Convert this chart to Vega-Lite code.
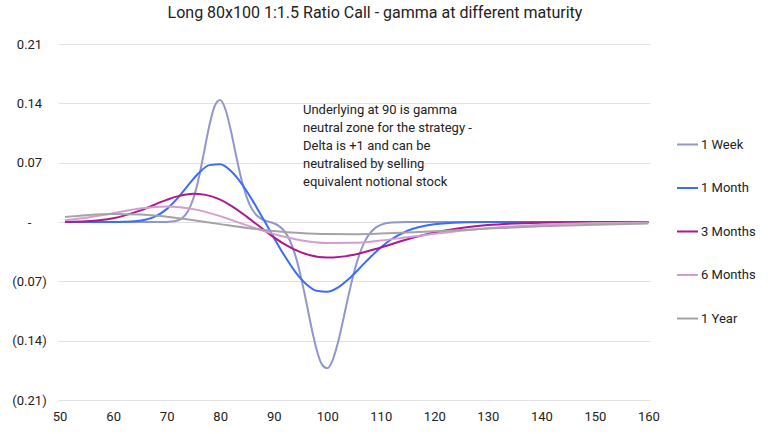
{
  "$schema": "https://vega.github.io/schema/vega-lite/v6.json",
  "width": 592,
  "height": 356,
  "autosize": {"type": "none"},
  "padding": {"left": 58, "top": 44, "right": 118, "bottom": 34},
  "background": "white",
  "config": {"view": {"stroke": null}, "font": "Roboto"},
  "title": {
    "text": "Long 80x100 1:1.5 Ratio Call - gamma at different maturity",
    "font": "Roboto",
    "fontSize": 16,
    "fontWeight": "normal",
    "color": "#222222",
    "anchor": "middle",
    "baseline": "alphabetic",
    "offset": 4,
    "dx": 21
  },
  "datasets": {
    "curves": [
      {"s": "1 Week", "x": 51, "y": 0},
      {"s": "1 Week", "x": 60, "y": 0},
      {"s": "1 Week", "x": 65, "y": 0},
      {"s": "1 Week", "x": 70, "y": 0.0001},
      {"s": "1 Week", "x": 71, "y": 0.0005},
      {"s": "1 Week", "x": 72, "y": 0.0017},
      {"s": "1 Week", "x": 73, "y": 0.005},
      {"s": "1 Week", "x": 74, "y": 0.0129},
      {"s": "1 Week", "x": 75, "y": 0.028},
      {"s": "1 Week", "x": 76, "y": 0.052},
      {"s": "1 Week", "x": 77, "y": 0.083},
      {"s": "1 Week", "x": 78, "y": 0.1145},
      {"s": "1 Week", "x": 79, "y": 0.1372},
      {"s": "1 Week", "x": 80, "y": 0.1438},
      {"s": "1 Week", "x": 81, "y": 0.1324},
      {"s": "1 Week", "x": 82, "y": 0.1076},
      {"s": "1 Week", "x": 83, "y": 0.0775},
      {"s": "1 Week", "x": 84, "y": 0.0497},
      {"s": "1 Week", "x": 85, "y": 0.0285},
      {"s": "1 Week", "x": 86, "y": 0.0147},
      {"s": "1 Week", "x": 87, "y": 0.0068},
      {"s": "1 Week", "x": 88, "y": 0.0027},
      {"s": "1 Week", "x": 89, "y": 0.0004},
      {"s": "1 Week", "x": 90, "y": -0.0016},
      {"s": "1 Week", "x": 91, "y": -0.0048},
      {"s": "1 Week", "x": 92, "y": -0.0108},
      {"s": "1 Week", "x": 93, "y": -0.0215},
      {"s": "1 Week", "x": 94, "y": -0.0385},
      {"s": "1 Week", "x": 95, "y": -0.0624},
      {"s": "1 Week", "x": 96, "y": -0.0917},
      {"s": "1 Week", "x": 97, "y": -0.1229},
      {"s": "1 Week", "x": 98, "y": -0.1501},
      {"s": "1 Week", "x": 99, "y": -0.168},
      {"s": "1 Week", "x": 100, "y": -0.1726},
      {"s": "1 Week", "x": 101, "y": -0.1632},
      {"s": "1 Week", "x": 102, "y": -0.1423},
      {"s": "1 Week", "x": 103, "y": -0.1148},
      {"s": "1 Week", "x": 104, "y": -0.0858},
      {"s": "1 Week", "x": 105, "y": -0.0596},
      {"s": "1 Week", "x": 106, "y": -0.0385},
      {"s": "1 Week", "x": 107, "y": -0.0232},
      {"s": "1 Week", "x": 108, "y": -0.0131},
      {"s": "1 Week", "x": 109, "y": -0.0069},
      {"s": "1 Week", "x": 110, "y": -0.0034},
      {"s": "1 Week", "x": 112, "y": -0.0007},
      {"s": "1 Week", "x": 115, "y": 0},
      {"s": "1 Week", "x": 120, "y": 0},
      {"s": "1 Week", "x": 130, "y": 0},
      {"s": "1 Week", "x": 140, "y": 0},
      {"s": "1 Week", "x": 150, "y": 0},
      {"s": "1 Week", "x": 160, "y": 0},
      {"s": "1 Month", "x": 51, "y": 0},
      {"s": "1 Month", "x": 55, "y": 0},
      {"s": "1 Month", "x": 60, "y": 0},
      {"s": "1 Month", "x": 62, "y": 0.0002},
      {"s": "1 Month", "x": 64, "y": 0.0008},
      {"s": "1 Month", "x": 66, "y": 0.0026},
      {"s": "1 Month", "x": 68, "y": 0.007},
      {"s": "1 Month", "x": 70, "y": 0.0152},
      {"s": "1 Month", "x": 72, "y": 0.0279},
      {"s": "1 Month", "x": 74, "y": 0.0433},
      {"s": "1 Month", "x": 76, "y": 0.0578},
      {"s": "1 Month", "x": 78, "y": 0.0671},
      {"s": "1 Month", "x": 80, "y": 0.0681},
      {"s": "1 Month", "x": 82, "y": 0.0602},
      {"s": "1 Month", "x": 84, "y": 0.0453},
      {"s": "1 Month", "x": 86, "y": 0.0258},
      {"s": "1 Month", "x": 88, "y": 0.0041},
      {"s": "1 Month", "x": 90, "y": -0.0182},
      {"s": "1 Month", "x": 92, "y": -0.0396},
      {"s": "1 Month", "x": 94, "y": -0.0585},
      {"s": "1 Month", "x": 96, "y": -0.0729},
      {"s": "1 Month", "x": 98, "y": -0.0812},
      {"s": "1 Month", "x": 100, "y": -0.0824},
      {"s": "1 Month", "x": 102, "y": -0.0773},
      {"s": "1 Month", "x": 104, "y": -0.0673},
      {"s": "1 Month", "x": 106, "y": -0.0548},
      {"s": "1 Month", "x": 108, "y": -0.0418},
      {"s": "1 Month", "x": 110, "y": -0.03},
      {"s": "1 Month", "x": 112, "y": -0.0204},
      {"s": "1 Month", "x": 115, "y": -0.0103},
      {"s": "1 Month", "x": 120, "y": -0.0026},
      {"s": "1 Month", "x": 125, "y": -0.0005},
      {"s": "1 Month", "x": 130, "y": -0.0001},
      {"s": "1 Month", "x": 140, "y": 0},
      {"s": "1 Month", "x": 150, "y": 0},
      {"s": "1 Month", "x": 160, "y": 0},
      {"s": "3 Months", "x": 51, "y": 0.0001},
      {"s": "3 Months", "x": 55, "y": 0.0008},
      {"s": "3 Months", "x": 60, "y": 0.0043},
      {"s": "3 Months", "x": 65, "y": 0.0134},
      {"s": "3 Months", "x": 70, "y": 0.0261},
      {"s": "3 Months", "x": 72, "y": 0.0302},
      {"s": "3 Months", "x": 75, "y": 0.0332},
      {"s": "3 Months", "x": 77, "y": 0.0323},
      {"s": "3 Months", "x": 80, "y": 0.0263},
      {"s": "3 Months", "x": 82, "y": 0.0194},
      {"s": "3 Months", "x": 85, "y": 0.0061},
      {"s": "3 Months", "x": 87, "y": -0.0036},
      {"s": "3 Months", "x": 90, "y": -0.0178},
      {"s": "3 Months", "x": 92, "y": -0.0261},
      {"s": "3 Months", "x": 95, "y": -0.0355},
      {"s": "3 Months", "x": 100, "y": -0.042},
      {"s": "3 Months", "x": 105, "y": -0.0387},
      {"s": "3 Months", "x": 110, "y": -0.03},
      {"s": "3 Months", "x": 115, "y": -0.0204},
      {"s": "3 Months", "x": 120, "y": -0.0124},
      {"s": "3 Months", "x": 125, "y": -0.007},
      {"s": "3 Months", "x": 130, "y": -0.0036},
      {"s": "3 Months", "x": 140, "y": -0.0008},
      {"s": "3 Months", "x": 150, "y": -0.0001},
      {"s": "3 Months", "x": 160, "y": 0},
      {"s": "6 Months", "x": 51, "y": 0.0021},
      {"s": "6 Months", "x": 55, "y": 0.0049},
      {"s": "6 Months", "x": 60, "y": 0.0104},
      {"s": "6 Months", "x": 65, "y": 0.0159},
      {"s": "6 Months", "x": 70, "y": 0.0183},
      {"s": "6 Months", "x": 75, "y": 0.0152},
      {"s": "6 Months", "x": 80, "y": 0.0069},
      {"s": "6 Months", "x": 85, "y": -0.004},
      {"s": "6 Months", "x": 90, "y": -0.0142},
      {"s": "6 Months", "x": 95, "y": -0.0214},
      {"s": "6 Months", "x": 100, "y": -0.0247},
      {"s": "6 Months", "x": 105, "y": -0.0245},
      {"s": "6 Months", "x": 110, "y": -0.0218},
      {"s": "6 Months", "x": 115, "y": -0.018},
      {"s": "6 Months", "x": 120, "y": -0.014},
      {"s": "6 Months", "x": 125, "y": -0.0103},
      {"s": "6 Months", "x": 130, "y": -0.0073},
      {"s": "6 Months", "x": 140, "y": -0.0033},
      {"s": "6 Months", "x": 150, "y": -0.0013},
      {"s": "6 Months", "x": 160, "y": -0.0005},
      {"s": "1 Year", "x": 51, "y": 0.006},
      {"s": "1 Year", "x": 55, "y": 0.008},
      {"s": "1 Year", "x": 60, "y": 0.0094},
      {"s": "1 Year", "x": 65, "y": 0.0089},
      {"s": "1 Year", "x": 70, "y": 0.0063},
      {"s": "1 Year", "x": 75, "y": 0.0022},
      {"s": "1 Year", "x": 80, "y": -0.0025},
      {"s": "1 Year", "x": 85, "y": -0.007},
      {"s": "1 Year", "x": 90, "y": -0.0106},
      {"s": "1 Year", "x": 95, "y": -0.013},
      {"s": "1 Year", "x": 100, "y": -0.0142},
      {"s": "1 Year", "x": 105, "y": -0.0144},
      {"s": "1 Year", "x": 110, "y": -0.0137},
      {"s": "1 Year", "x": 115, "y": -0.0125},
      {"s": "1 Year", "x": 120, "y": -0.011},
      {"s": "1 Year", "x": 125, "y": -0.0094},
      {"s": "1 Year", "x": 130, "y": -0.0078},
      {"s": "1 Year", "x": 140, "y": -0.0051},
      {"s": "1 Year", "x": 150, "y": -0.0031},
      {"s": "1 Year", "x": 160, "y": -0.0019}
    ],
    "note": [
      {"x": 95.47, "y": 0.1392, "text": "Underlying at 90 is gamma\nneutral zone for the strategy -\nDelta is +1 and can be\nneutralised by selling\nequivalent notional stock"}
    ]
  },
  "encoding": {
    "x": {
      "field": "x",
      "type": "quantitative",
      "scale": {"domain": [49.7, 160.3], "nice": false, "zero": false},
      "axis": {
        "values": [50, 60, 70, 80, 90, 100, 110, 120, 130, 140, 150, 160],
        "title": null,
        "grid": false,
        "domain": false,
        "ticks": false,
        "tickSize": 0,
        "labelPadding": 10,
        "labelFlush": false,
        "labelOverlap": false,
        "labelFont": "Roboto",
        "labelFontSize": 13,
        "labelColor": "#222222"
      }
    },
    "y": {
      "field": "y",
      "type": "quantitative",
      "scale": {"domain": [-0.21, 0.21], "nice": false, "zero": false},
      "axis": {
        "values": [-0.21, -0.14, -0.07, 0, 0.07, 0.14, 0.21],
        "title": null,
        "grid": true,
        "gridColor": "#e2e2e2",
        "gridWidth": 1,
        "domain": false,
        "ticks": false,
        "tickSize": 0,
        "labelPadding": 29,
        "labelAlign": "center",
        "labelBaseline": "middle",
        "labelFlush": false,
        "labelOverlap": false,
        "labelFont": "Roboto",
        "labelFontSize": 13,
        "labelColor": "#222222",
        "labelExpr": "datum.value == 0 ? '-' : (datum.value < 0 ? '(' + format(-datum.value, '.2f') + ')' : format(datum.value, '.2f'))"
      }
    }
  },
  "layer": [
    {
      "data": {"name": "curves"},
      "mark": {"type": "line", "interpolate": "monotone", "strokeWidth": 2},
      "encoding": {
        "color": {
          "field": "s",
          "type": "nominal",
          "scale": {
            "domain": ["1 Week", "1 Month", "3 Months", "6 Months", "1 Year"],
            "range": ["#9197cb", "#3c6ef3", "#ab1b8f", "#d49dd1", "#a4a4a4"]
          },
          "legend": {
            "orient": "none",
            "legendX": 618,
            "legendY": 89,
            "title": null,
            "padding": 0,
            "symbolType": "stroke",
            "symbolSize": 441,
            "symbolStrokeWidth": 2,
            "labelFont": "Roboto",
            "labelFontSize": 13,
            "labelColor": "#222222",
            "labelOffset": 2,
            "rowPadding": 24.5
          }
        }
      }
    },
    {
      "data": {"name": "note"},
      "mark": {
        "type": "text",
        "align": "left",
        "baseline": "top",
        "font": "Roboto",
        "fontSize": 13,
        "lineHeight": 18,
        "lineBreak": "\n",
        "color": "#222222"
      },
      "encoding": {"text": {"field": "text", "type": "nominal"}}
    }
  ]
}
